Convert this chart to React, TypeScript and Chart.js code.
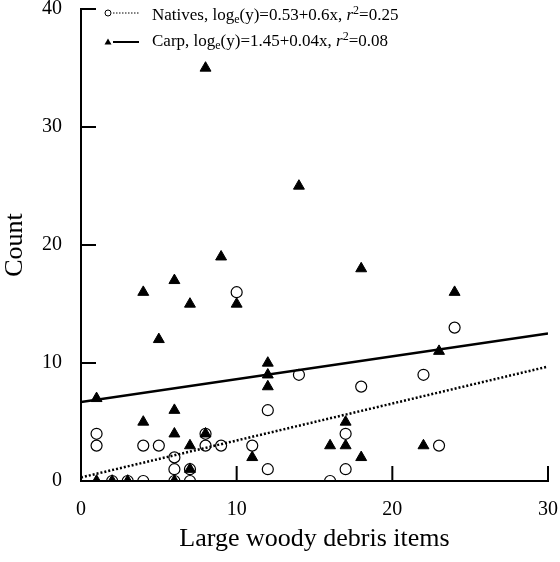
import React, { useEffect, useRef } from 'react';
import { Chart, registerables } from 'chart.js';

Chart.register(...registerables);

// Carp counts (filled triangles)
const carpX = [1, 1, 2, 3, 4, 4, 5, 6, 6, 6, 6, 7, 7, 7, 8, 8, 9, 10, 11, 12, 12, 12, 14, 16, 17, 17, 18, 18, 22, 23, 24];
const carpY = [7, 0, 0, 0, 16, 5, 12, 17, 6, 4, 0, 15, 3, 1, 35, 4, 19, 15, 2, 10, 9, 8, 25, 3, 5, 3, 18, 2, 3, 11, 16];

// Native fish counts (open circles)
const nativeX = [1, 1, 2, 3, 4, 4, 5, 6, 6, 6, 7, 7, 8, 8, 9, 10, 11, 12, 12, 14, 16, 17, 17, 18, 22, 23, 24];
const nativeY = [4, 3, 0, 0, 3, 0, 3, 2, 1, 0, 1, 0, 4, 3, 3, 16, 3, 6, 1, 9, 0, 4, 1, 8, 9, 3, 13];

// fitted lines, end points
const fitX = [0, 30];
const carpFit = [6.7, 12.5];
const nativeFit = [0.3, 9.7];

const xTicks = [0, 10, 20, 30];
const yTicks = [0, 10, 20, 30, 40];

const SERIF = '"Liberation Serif", "DejaVu Serif", serif';

const toPoints = (xs: number[], ys: number[]) => xs.map((x, i) => ({ x, y: ys[i] }));

// inward tick marks + legend with sub/superscripts
const decorPlugin = {
  id: 'decor',
  afterDraw(chart: any) {
    const { ctx, chartArea, scales } = chart;
    const xs = scales.x;
    const ys = scales.y;
    ctx.save();
    ctx.strokeStyle = '#000';
    ctx.lineWidth = 2;
    ctx.beginPath();
    yTicks.slice(1).forEach((v) => {
      const py = ys.getPixelForValue(v);
      ctx.moveTo(chartArea.left, py);
      ctx.lineTo(chartArea.left + 15, py);
    });
    xTicks.slice(1).forEach((v) => {
      const px = xs.getPixelForValue(v);
      ctx.moveTo(px, chartArea.bottom);
      ctx.lineTo(px, chartArea.bottom - 15);
    });
    ctx.stroke();

    // legend
    const mx = chartArea.left + 27;
    const lineX0 = mx + 5;
    const lineX1 = mx + 31;
    const textX = mx + 44;

    const drawRich = (parts: { t: string; f: string; dy: number }[], x: number, y: number) => {
      let cx = x;
      parts.forEach((p) => {
        ctx.font = p.f;
        ctx.fillText(p.t, cx, y + p.dy);
        cx += ctx.measureText(p.t).width;
      });
    };
    const main = `17px ${SERIF}`;
    const small = `12px ${SERIF}`;
    const ital = `italic 17px ${SERIF}`;

    ctx.fillStyle = '#000';
    ctx.textBaseline = 'alphabetic';
    ctx.textAlign = 'left';

    // natives row
    const y1 = chartArea.top + 4;
    ctx.lineWidth = 1;
    ctx.beginPath();
    ctx.arc(mx, y1, 3, 0, Math.PI * 2);
    ctx.stroke();
    ctx.setLineDash([1.5, 1.5]);
    ctx.beginPath();
    ctx.moveTo(lineX0, y1);
    ctx.lineTo(lineX1, y1);
    ctx.stroke();
    ctx.setLineDash([]);
    drawRich(
      [
        { t: 'Natives, log', f: main, dy: 0 },
        { t: 'e', f: small, dy: 3 },
        { t: '(y)=0.53+0.6x, ', f: main, dy: 0 },
        { t: 'r', f: ital, dy: 0 },
        { t: '2', f: small, dy: -6 },
        { t: '=0.25', f: main, dy: 0 },
      ],
      textX,
      y1 + 7
    );

    // carp row
    const y2 = chartArea.top + 33;
    ctx.beginPath();
    ctx.moveTo(mx, y2 - 3.5);
    ctx.lineTo(mx + 3.5, y2 + 2.5);
    ctx.lineTo(mx - 3.5, y2 + 2.5);
    ctx.closePath();
    ctx.fill();
    ctx.lineWidth = 2;
    ctx.beginPath();
    ctx.moveTo(lineX0, y2);
    ctx.lineTo(lineX1, y2);
    ctx.stroke();
    drawRich(
      [
        { t: 'Carp, log', f: main, dy: 0 },
        { t: 'e', f: small, dy: 3 },
        { t: '(y)=1.45+0.04x, ', f: main, dy: 0 },
        { t: 'r', f: ital, dy: 0 },
        { t: '2', f: small, dy: -6 },
        { t: '=0.08', f: main, dy: 0 },
      ],
      textX,
      y2 + 4
    );
    ctx.restore();
  },
};

const App: React.FC = () => {
  const chartRef = useRef<HTMLCanvasElement>(null);
  const chartInstance = useRef<Chart>();

  useEffect(() => {
    if (chartRef && chartRef.current) {
      const ctx = chartRef.current.getContext('2d');
      if (ctx) {
        if (chartInstance.current) {
          chartInstance.current.destroy();
        }
        chartInstance.current = new Chart(ctx, {
          type: 'scatter',
          data: {
            datasets: [
              {
                label: 'Carp',
                data: toPoints(carpX, carpY),
                pointStyle: 'triangle',
                pointRadius: 6.3,
                backgroundColor: '#000',
                borderColor: '#000',
                borderWidth: 1,
                order: 1,
              },
              {
                label: 'Natives',
                data: toPoints(nativeX, nativeY),
                pointStyle: 'circle',
                pointRadius: 5.5,
                backgroundColor: 'rgba(255,255,255,0)',
                borderColor: '#000',
                borderWidth: 1.2,
                order: 2,
              },
              {
                type: 'line',
                label: 'Carp fit',
                data: toPoints(fitX, carpFit),
                borderColor: '#000',
                borderWidth: 2.5,
                pointRadius: 0,
                showLine: true,
                order: 0,
              },
              {
                type: 'line',
                label: 'Natives fit',
                data: toPoints(fitX, nativeFit),
                borderColor: '#000',
                borderWidth: 2.5,
                borderDash: [2, 2],
                pointRadius: 0,
                showLine: true,
                order: 0,
              },
            ],
          } as any,
          options: {
            responsive: false,
            animation: false,
            layout: { padding: { top: 9, right: 12, left: 0, bottom: 0 } },
            plugins: {
              legend: { display: false },
              tooltip: { enabled: false },
            },
            scales: {
              x: {
                type: 'linear',
                min: 0,
                max: 30,
                afterBuildTicks: (scale: any) => {
                  scale.ticks = xTicks.map((v) => ({ value: v }));
                },
                afterFit: (scale: any) => {
                  scale.height = 81;
                  scale.paddingLeft = 0;
                  scale.paddingRight = 0;
                },
                grid: { display: false, drawTicks: false },
                border: { display: true, color: '#000', width: 2 },
                ticks: {
                  color: '#000',
                  padding: 17,
                  font: { family: SERIF, size: 20 },
                },
                title: {
                  display: true,
                  text: 'Large woody debris items',
                  color: '#000',
                  font: { family: SERIF, size: 26 },
                  padding: { top: 0, bottom: 7 },
                },
              },
              y: {
                type: 'linear',
                min: 0,
                max: 40,
                afterBuildTicks: (scale: any) => {
                  scale.ticks = yTicks.map((v) => ({ value: v }));
                },
                afterFit: (scale: any) => {
                  scale.width = 81;
                  scale.paddingTop = 0;
                  scale.paddingBottom = 0;
                },
                grid: { display: false, drawTicks: false },
                border: { display: true, color: '#000', width: 2 },
                ticks: {
                  color: '#000',
                  padding: 19,
                  font: { family: SERIF, size: 20 },
                },
                title: {
                  display: true,
                  text: 'Count',
                  color: '#000',
                  font: { family: SERIF, size: 26 },
                  padding: { top: 0, bottom: 0 },
                },
              },
            },
          },
          plugins: [decorPlugin],
        });
      }
    }
    return () => {
      if (chartInstance.current) {
        chartInstance.current.destroy();
        chartInstance.current = undefined;
      }
    };
  }, []);

  return (
    <div style={{ position: 'absolute', left: 0, top: 0, width: 560, height: 562, background: '#fff' }}>
      <canvas ref={chartRef} width={560} height={562} style={{ display: 'block' }} />
    </div>
  );
};

export default App;
